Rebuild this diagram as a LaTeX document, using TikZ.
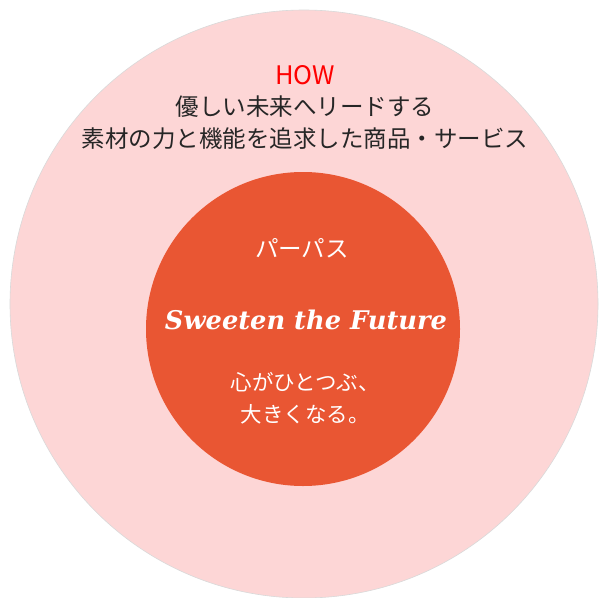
\documentclass[tikz,border=0pt]{standalone}
\usepackage{fontspec}
\newfontfamily\jp{Noto Sans CJK JP}
\newfontfamily\scriptish{DejaVu Serif}
\definecolor{outerpink}{RGB}{253,214,214}
\definecolor{innerorange}{RGB}{233,86,51}
\definecolor{howred}{RGB}{255,0,0}
\definecolor{darktext}{RGB}{38,38,38}
\begin{document}
\begin{tikzpicture}[x=1pt,y=-1pt,
  jptext/.style={font=\jp\fontsize{23.5}{23.5}\selectfont, inner sep=0pt, anchor=center},
  whitetext/.style={jptext, text=white},
  smallwhite/.style={whitetext, font=\jp\fontsize{21.5}{21.5}\selectfont},
  darklabel/.style={jptext, text=darktext}]
\useasboundingbox (0,0) rectangle (599,597);
\fill[white] (0,0) rectangle (599,597);
\begin{scope}
\clip (0,0) rectangle (599,597);
\node[circle, minimum size=588pt, inner sep=0pt, fill=outerpink, draw=black!15, line width=0.6pt] (outer) at (304,304) {};
\end{scope}
\node[circle, minimum size=314pt, inner sep=0pt, fill=innerorange] (inner) at (303,329) {};
\node[jptext, text=howred, font=\jp\fontsize{25.5}{25.5}\selectfont] (how) at (305,75) {HOW};
\node[darklabel] (l1) at (305,107) {優しい未来へリードする};
\node[darklabel] (l2) at (305,139) {素材の力と機能を追求した商品・サービス};
\node[whitetext] (purpose) at (302,248) {パーパス};
\node[inner sep=0pt, text=white] (sweet) at (306,320) {\resizebox{282pt}{!}{\scriptish\bfseries\itshape Sweeten the Future}};
\node[smallwhite] (m1) at (305,382) {心がひとつぶ、};
\node[smallwhite] (m2) at (305,414) {大きくなる。};
\end{tikzpicture}
\end{document}
